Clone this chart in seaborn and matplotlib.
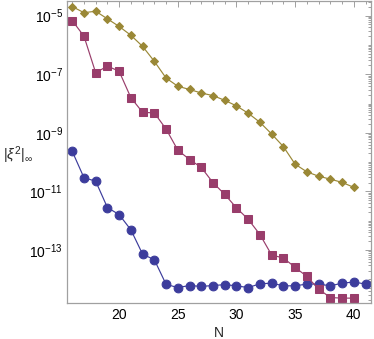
import numpy as np
import pandas as pd
import matplotlib
matplotlib.use("Agg")
import matplotlib.pyplot as plt
import matplotlib.ticker as mticker
import seaborn as sns

# log10 values
N_blue = list(range(16, 42))
log_blue = [-9.63, -10.53, -10.65, -11.55, -11.79, -12.31, -13.14, -13.33, -14.17, -14.28,
            -14.21, -14.24, -14.21, -14.18, -14.22, -14.28, -14.15, -14.13, -14.22, -14.22,
            -14.16, -14.16, -14.22, -14.13, -14.09, -14.16]
N_purple = list(range(16, 41))
log_purple = [-5.17, -5.70, -6.95, -6.72, -6.90, -7.80, -8.30, -8.32, -8.87, -9.59,
              -9.91, -10.18, -10.70, -11.10, -11.56, -11.95, -12.47, -13.17, -13.27, -13.59,
              -13.90, -14.33, -14.62, -14.64, -14.64]
N_olive = list(range(16, 41))
log_olive = [-4.69, -4.90, -4.85, -5.11, -5.37, -5.67, -6.05, -6.56, -7.13, -7.41,
             -7.52, -7.64, -7.73, -7.89, -8.08, -8.33, -8.64, -9.04, -9.47, -10.07,
             -10.33, -10.48, -10.58, -10.69, -10.86]

sns.set_theme(style="white")
plt.rcParams['font.family'] = ['Liberation Sans', 'DejaVu Sans']
plt.rcParams['mathtext.fontset'] = 'custom'
plt.rcParams['mathtext.rm'] = 'Liberation Sans'
plt.rcParams['mathtext.it'] = 'Liberation Sans:italic'

fig = plt.figure(figsize=(3.74, 3.39), dpi=100)
ax = fig.add_axes([0.179, 0.105, 0.814, 0.893])

series = [
    (N_blue, log_blue, "#3c3c9c", "o", 6.3),
    (N_purple, log_purple, "#993d6b", "s", 5.3),
    (N_olive, log_olive, "#9a8836", "D", 4.0),
]
for xs, ls, col, mk, ms in series:
    df = pd.DataFrame({"N": xs, "v": 10.0 ** np.array(ls)})
    sns.lineplot(data=df, x="N", y="v", ax=ax, color=col, marker=mk, markersize=ms,
                 markeredgecolor=col, linewidth=0.85)

ax.set_yscale("log")
ax.set_xlim(15.55, 41.5)
ax.set_ylim(10 ** -14.82, 10 ** -4.49)

ax.xaxis.set_major_locator(mticker.FixedLocator([20, 25, 30, 35, 40]))
ax.xaxis.set_minor_locator(mticker.MultipleLocator(1))
ax.yaxis.set_major_locator(mticker.FixedLocator([1e-5, 1e-7, 1e-9, 1e-11, 1e-13]))
ax.yaxis.set_major_formatter(mticker.FuncFormatter(lambda v, p: r"$10^{%d}$" % round(np.log10(v))))
minor = []
for e in range(-15, -4):
    for s in range(1, 10):
        val = s * 10.0 ** e
        if not (s == 1 and e % 2 == 1):
            minor.append(val)
ax.yaxis.set_minor_locator(mticker.FixedLocator(minor))
ax.yaxis.set_minor_formatter(mticker.NullFormatter())

frame = "#a0a0a0"
for sp in ax.spines.values():
    sp.set_color(frame)
    sp.set_linewidth(0.9)
ax.tick_params(which="both", direction="in", top=True, right=True, color=frame,
               labelsize=10, labelcolor="black", width=0.7)
ax.tick_params(which="major", length=4, pad=3)
ax.tick_params(which="minor", length=2)

ax.set_xlabel("N", fontsize=10, labelpad=3)
ax.set_ylabel("")
fig.text(0.008, 0.543, r"$|\xi^2|_\infty$", fontsize=10.5, ha="left", va="center")

fig.savefig("out.png", dpi=100)
